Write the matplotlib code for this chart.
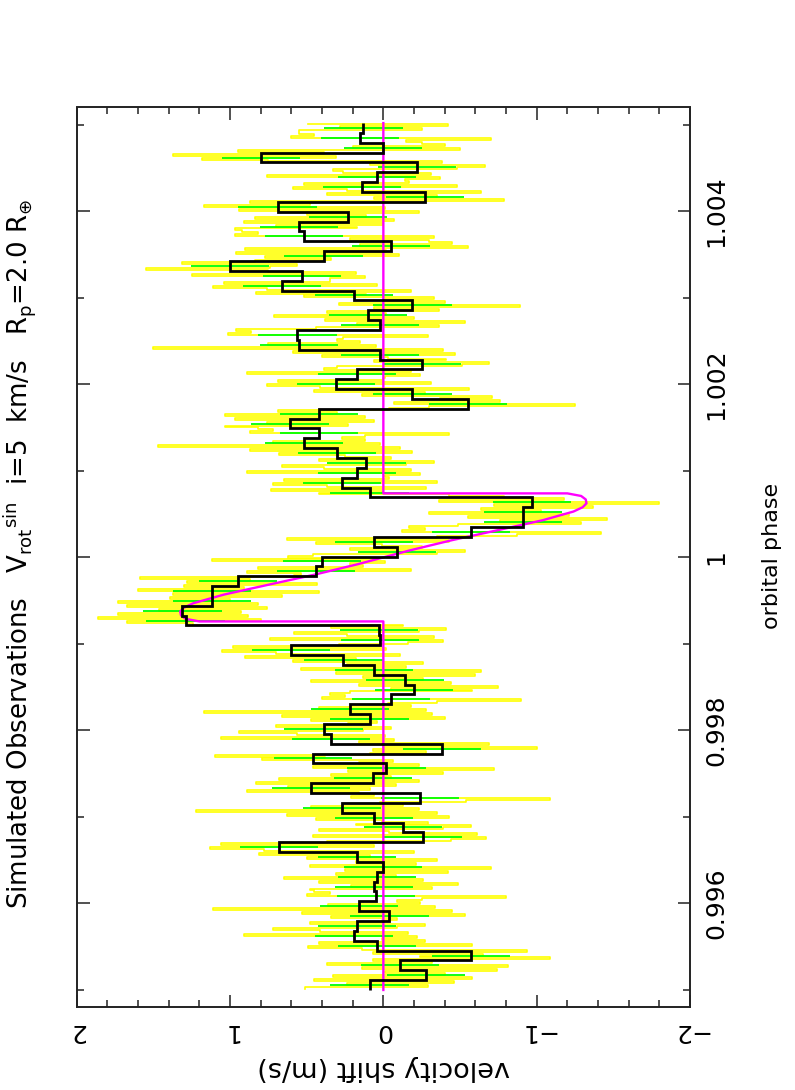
import matplotlib
matplotlib.use("Agg")
import matplotlib.pyplot as plt
import numpy as np
from matplotlib.ticker import MultipleLocator


# binned velocity shift (m/s), 88 equal bins between BIN_START and BIN_STOP
BIN_START = 0.99500
BIN_STOP = 1.00502
BINNED_SHIFT = [
    0.09, -0.28, -0.11, -0.57, 0.04, 0.19, 0.17, -0.04, 0.16, 0.05,
    0.06, 0.04, 0.00, 0.17, 0.68, -0.26, -0.13, 0.06, 0.27, -0.24,
    0.47, 0.07, -0.02, 0.46, -0.38, 0.34, 0.39, 0.09, 0.22, -0.05,
    -0.20, -0.14, 0.06, 0.26, 0.60, 0.02, 0.03, 1.29, 1.31, 1.12,
    1.12, 0.95, 0.44, 0.40, -0.09, 0.06, -0.57, -0.91, -0.91, -0.97,
    0.09, 0.27, 0.17, 0.11, 0.30, 0.52, 0.42, 0.61, 0.42, -0.55,
    -0.19, 0.31, 0.17, -0.25, 0.02, 0.55, 0.56, 0.02, 0.10, -0.19,
    0.19, 0.66, 0.53, 1.00, 0.39, -0.05, 0.52, 0.55, 0.23, 0.69,
    -0.27, 0.14, 0.04, -0.22, 0.80, 0.00, 0.15, 0.13,
]
BIN_ERROR = 0.255

# individual (unbinned) measurements, 5 per bin
RAW_SHIFT = [
    0.51, -0.29, 0.24, -0.46, 0.45,  -0.58, 0.33, -0.40, -0.01, -0.74,
    0.14, -0.81, 0.37, -0.32, 0.07,  -1.09, -0.24, -0.65, 0.07, -0.94,
    0.14, 0.49, -0.58, 0.42, -0.27,  0.01, -0.22, 0.91, -0.16, 0.41,
    0.72, -0.09, -0.27, 0.48, 0.01,  -0.09, 0.34, -0.53, 0.53, -0.45,
    1.11, -0.34, 0.36, -0.24, -0.09,  -0.25, -0.80, 0.50, 0.35, 0.45,
    0.48, -0.32, 0.21, -0.49, 0.42,  -0.26, 0.65, -0.08, 0.31, -0.42,
    0.25, -0.70, 0.48, -0.21, 0.18,  -0.35, 0.50, 0.09, 0.81, -0.20,
    0.78, 1.13, 0.06, 1.06, 0.37,  -0.44, -0.67, 0.46, -0.61, -0.04,
    0.42, -0.39, -0.57, 0.18, -0.29,  0.01, 0.44, -0.43, 0.63, -0.35,
    1.22, -0.23, 0.47, -0.13, 0.02,  -0.54, -1.09, 0.21, 0.06, 0.16,
    0.89, 0.09, 0.62, -0.08, 0.83,  -0.23, 0.68, -0.05, 0.34, -0.39,
    0.23, -0.72, 0.46, -0.23, 0.16,  -0.06, 0.79, 0.38, 1.10, 0.09,
    -0.28, 0.07, -1.00, 0.00, -0.69,  0.16, -0.07, 1.06, -0.01, 0.56,
    0.94, 0.13, -0.05, 0.70, 0.23,  0.04, 0.47, -0.40, 0.66, -0.32,
    1.17, -0.28, 0.42, -0.18, -0.03,  -0.35, -0.90, 0.40, 0.25, 0.35,
    0.22, -0.58, -0.05, -0.75, 0.16,  -0.44, 0.47, -0.26, 0.13, -0.60,
    0.31, -0.64, 0.54, -0.15, 0.24,  -0.26, 0.59, 0.18, 0.90, -0.11,
    0.70, 1.05, -0.02, 0.98, 0.29,  -0.16, -0.39, 0.74, -0.33, 0.24,
    0.58, -0.23, -0.41, 0.34, -0.13,  1.24, 1.67, 0.80, 1.86, 0.88,
    1.73, 0.93, 1.46, 0.76, 1.67,  0.82, 1.73, 1.00, 1.39, 0.66,
    1.37, 0.42, 1.60, 0.91, 1.30,  0.43, 1.28, 0.87, 1.59, 0.58,
    0.54, 0.89, -0.18, 0.82, 0.13,  0.22, -0.01, 1.12, 0.05, 0.62,
    0.46, -0.35, -0.53, 0.22, -0.25,  0.01, 0.44, -0.43, 0.63, -0.35,
    -0.87, -1.42, -0.12, -0.27, -0.17,  -0.49, -1.29, -0.76, -1.46, -0.55,
    -1.21, -0.30, -1.03, -0.64, -1.37,  -0.72, -1.80, -0.36, -1.18, -0.79,
    -0.43, 0.42, 0.01, 0.73, -0.28,  0.37, 0.72, -0.35, 0.65, -0.04,
    -0.01, -0.24, 0.89, -0.18, 0.39,  0.66, -0.15, -0.33, 0.42, -0.05,
    0.25, 0.68, -0.19, 0.87, -0.11,  1.47, 0.02, 0.72, 0.12, 0.27,
    0.12, -0.43, 0.87, 0.72, 0.82,  1.03, 0.23, 0.76, 0.06, 0.97,
    0.12, 1.03, 0.30, 0.69, -0.04,  -0.30, -1.25, -0.07, -0.76, -0.37,
    -0.71, 0.14, -0.27, 0.45, -0.56,  0.41, 0.76, -0.31, 0.69, 0.00,
    -0.01, -0.24, 0.89, -0.18, 0.39,  0.30, -0.51, -0.69, 0.06, -0.41,
    -0.03, 0.40, -0.47, 0.59, -0.39,  1.50, 0.05, 0.75, 0.15, 0.30,
    0.26, -0.29, 1.01, 0.86, 0.96,  0.44, -0.36, 0.17, -0.53, 0.38,
    -0.20, 0.71, -0.02, 0.37, -0.36,  0.06, -0.89, 0.29, -0.40, -0.01,
    -0.33, 0.52, 0.11, 0.83, -0.18,  0.76, 1.11, 0.04, 1.04, 0.35,
    0.35, 0.12, 1.25, 0.18, 0.75,  1.55, 0.74, 0.56, 1.31, 0.84,
    0.34, 0.77, -0.10, 0.96, -0.02,  0.90, -0.55, 0.15, -0.45, -0.30,
    0.22, -0.33, 0.97, 0.82, 0.92,  0.97, 0.17, 0.70, 0.00, 0.91,
    -0.07, 0.84, 0.11, 0.50, -0.23,  0.94, -0.01, 1.17, 0.48, 0.87,
    -0.79, 0.06, -0.35, 0.37, -0.64,  0.24, 0.59, -0.48, 0.52, -0.17,
    -0.14, -0.37, 0.76, -0.31, 0.26,  0.33, -0.48, -0.66, 0.09, -0.38,
    0.75, 1.18, 0.31, 1.37, 0.39,  0.95, -0.50, 0.20, -0.40, -0.25,
    -0.15, -0.70, 0.60, 0.45, 0.55,  0.55, -0.25, 0.28, -0.42, 0.49,
]

# Rossiter-McLaughlin model curve
MODEL_PHASE = [
    0.99500, 0.99926, 0.99926, 0.99929, 0.99933, 0.999375, 0.99942, 0.99947,
    0.99957, 0.99968, 0.99980, 0.99992, 1.00000, 1.00008, 1.00020, 1.00032,
    1.00043, 1.00053, 1.00058, 1.000625, 1.00067, 1.00071, 1.00074, 1.00074,
    1.00502,
]
MODEL_SHIFT = [
    0.0, 0.0, 1.20, 1.29, 1.32, 1.325, 1.30, 1.24,
    1.04, 0.76, 0.45, 0.17, 0.0, -0.17, -0.45, -0.76,
    -1.04, -1.24, -1.30, -1.325, -1.32, -1.29, -1.20, 0.0,
    0.0,
]

PHASE_TICKS = [0.996, 0.998, 1.000, 1.002, 1.004]
PHASE_TICK_LABELS = ["0.996", "0.998", "1", "1.002", "1.004"]
SHIFT_TICKS = [2, 1, 0, -1, -2]
SHIFT_TICK_LABELS = ["2", "1", "0", "\u22121", "\u22122"]

TITLE = (r"Simulated Observations   $\mathrm{V}_{\rm rot}{}^{\rm sin}$  i=5  km/s   "
         r"$\mathrm{R}_{\rm p}$=2.0 $\mathrm{R}_{\oplus}$")

W, H = 795, 1090


fig = plt.figure(figsize=(W / 100, H / 100), dpi=100)
ax = fig.add_axes([76.7 / W, 1 - 1007.3 / H, (690 - 76.7) / W, (1007.3 - 107.5) / H])

edges = np.linspace(BIN_START, BIN_STOP, len(BINNED_SHIFT) + 1)
centers = 0.5 * (edges[:-1] + edges[1:])
raw_step = (BIN_STOP - BIN_START) / len(RAW_SHIFT)
raw_phase = np.linspace(BIN_START, BIN_STOP - raw_step, len(RAW_SHIFT)) + raw_step / 2

# raw points: consecutive values joined by horizontal (velocity) streaks
ax.plot(RAW_SHIFT, raw_phase, color="#ffff00", lw=1.2, drawstyle="steps-pre", zorder=1)
ax.errorbar(BINNED_SHIFT, centers, xerr=BIN_ERROR, fmt="none", ecolor="#00ff00",
            elinewidth=1.3, capsize=0, zorder=2)
ax.plot(MODEL_SHIFT, MODEL_PHASE, color="#ff00ff", lw=1.7, zorder=3)
ax.stairs(BINNED_SHIFT, edges, orientation="horizontal", baseline=None,
          color="black", lw=2.0, zorder=4)

ax.set_xlim(2, -2)
ax.set_ylim(0.9948, 1.0052)

ax.set_xticks(SHIFT_TICKS, SHIFT_TICK_LABELS)
ax.xaxis.set_minor_locator(MultipleLocator(0.2))
ax.set_yticks(PHASE_TICKS, PHASE_TICK_LABELS)
ax.yaxis.set_minor_locator(MultipleLocator(0.001))

ax.tick_params(which="both", direction="in", top=True, bottom=True, left=True, right=True,
               width=1.1, color="#222222")
ax.tick_params(which="major", length=9)
ax.tick_params(which="minor", length=4.9)
ax.tick_params(axis="y", labelleft=False, labelright=True, labelsize=18, pad=10, labelrotation=90)
ax.tick_params(axis="x", labelsize=18, pad=8.4, labelrotation=180)
for t in ax.yaxis.get_major_ticks():
    t.label2.set_va("center")

for sp in ax.spines.values():
    sp.set_linewidth(1.4)
    sp.set_color("#222222")

fig.text(20 / W, 1 - 909 / H, TITLE, rotation=90, ha="center", va="bottom", fontsize=18.7)
fig.text(772 / W, 1 - 556 / H, "orbital phase", rotation=90, ha="center", va="center", fontsize=16)
fig.text(383.4 / W, 1 - 1068 / H, "velocity shift (m/s)", rotation=180, ha="center", va="center",
         fontsize=19.5)

fig.savefig("out.png", dpi=100)
